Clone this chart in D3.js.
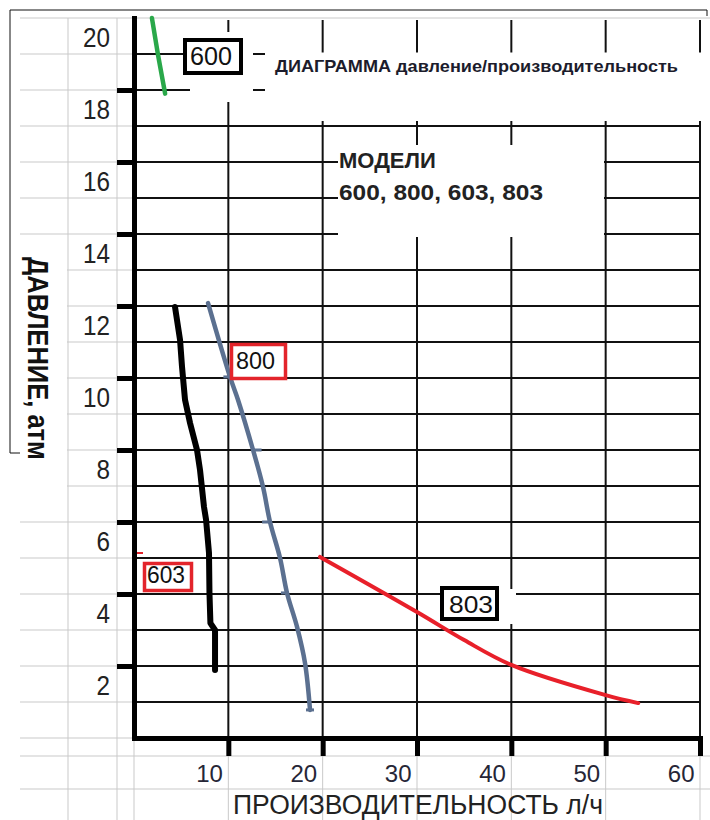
<!DOCTYPE html>
<html>
<head>
<meta charset="utf-8">
<script src="https://cdn.jsdelivr.net/npm/d3@7"></script>
<style>
  body { margin: 0; background: #fff; }
  text { font-family: 'Liberation Sans', Arial, sans-serif; }
</style>
</head>
<body>
<div id="viz"></div>
<script>
// tick values
const xTicks = [10, 20, 30, 40, 50, 60];
const yTicks = [2, 4, 6, 8, 10, 12, 14, 16, 18, 20];
const yMajor = [2, 4, 6, 8, 10, 12, 14, 16, 18];

// curves: [производительность л/ч, давление атм]
const model600 = [[1.9, 20.0], [2.55, 18.97], [3.3, 17.9]];
const model603 = [[4.35, 11.97], [4.88, 11.06], [5.09, 10.31], [5.41, 9.39], [5.94, 8.75],
  [6.68, 8.0], [7.0, 7.44], [7.42, 6.42], [7.64, 6.06], [7.95, 5.14], [8.0, 4.03],
  [8.1, 3.19], [8.59, 3.0], [8.59, 1.89]];
const model800 = [[7.85, 12.08], [10.18, 10.03], [11.03, 9.39], [12.62, 8.0], [13.68, 6.97],
  [14.42, 6.0], [15.48, 5.0], [16.22, 4.03], [17.29, 3.08], [18.13, 2.08], [18.66, 0.78]];
const model803 = [[19.72, 5.03], [30.0, 3.5], [35.0, 2.72], [40.0, 2.03], [50.0, 1.19], [53.45, 0.97]];
const markers800 = [[9.9, 10.03], [13.1, 8.0], [14.0, 6.0], [16.0, 4.03], [18.66, 0.78]];

const width = 710;
const height = 820;

const svg = d3.select('#viz')
    .append('svg')
    .attr('width', width)
    .attr('height', height);

const x = d3.scaleLinear().domain([0, 60]).range([134, 700]);
const y = d3.scaleLinear().domain([0, 20]).range([738, 18]);

// spreadsheet background lines
const sheet = svg.append('g').attr('stroke', '#c9c9c9').attr('stroke-width', 1);
sheet.selectAll('line.row')
    .data(d3.range(0, 21))
    .enter()
    .append('line')
    .attr('x1', 20)
    .attr('x2', (d) => (d === 20 ? 710 : x(0)))
    .attr('y1', (d) => y(d))
    .attr('y2', (d) => y(d));
[756, 789].forEach((yy) => {
  sheet.append('line').attr('x1', 20).attr('x2', 710).attr('y1', yy).attr('y2', yy);
});
[68, 117].forEach((xx) => {
  sheet.append('line').attr('x1', xx).attr('x2', xx).attr('y1', y(20)).attr('y2', height);
});
sheet.selectAll('line.col')
    .data([0].concat(xTicks))
    .enter()
    .append('line')
    .attr('x1', (d) => x(d))
    .attr('x2', (d) => x(d))
    .attr('y1', y(0))
    .attr('y2', height);
// blank cell behind the y title
svg.append('rect').attr('x', 20).attr('y', 245).attr('width', 47).attr('height', 255).attr('fill', '#fff');

// frame of the pasted picture
svg.append('path')
    .attr('d', 'M20,453H10V10H707V16')
    .attr('fill', 'none')
    .attr('stroke', '#111')
    .attr('stroke-width', 1);

// chart grid
const grid = svg.append('g').attr('stroke', '#111').attr('stroke-width', 2);
grid.selectAll('line.h')
    .data(d3.range(1, 20))
    .enter()
    .append('line')
    .attr('x1', x(0))
    .attr('x2', x(60))
    .attr('y1', (d) => y(d))
    .attr('y2', (d) => y(d));
grid.selectAll('line.v')
    .data(xTicks)
    .enter()
    .append('line')
    .attr('x1', (d) => x(d))
    .attr('x2', (d) => x(d))
    .attr('y1', y(20) + 2)
    .attr('y2', y(0));

// white areas under the title and the models note
const covers = [[190, 32, 63, 70], [265, 52.5, 438, 68.5], [338, 145, 266, 92], [499, 589, 17, 35]];
svg.selectAll('rect.cover')
    .data(covers)
    .enter()
    .append('rect')
    .attr('x', (d) => d[0])
    .attr('y', (d) => d[1])
    .attr('width', (d) => d[2])
    .attr('height', (d) => d[3])
    .attr('fill', '#fff');

// axes
const yAxis = svg.append('g')
    .attr('transform', `translate(${x(0)},0)`)
    .call(d3.axisLeft(y).tickValues(yMajor).tickSize(17).tickSizeOuter(0).tickFormat(''));
yAxis.selectAll('.tick line').attr('stroke', '#000').attr('stroke-width', 5);
yAxis.select('.domain').attr('stroke', '#000').attr('stroke-width', 5).attr('stroke-linecap', 'square');

const xAxis = svg.append('g')
    .attr('transform', `translate(0,${y(0)})`)
    .call(d3.axisBottom(x).tickValues(xTicks).tickSize(18).tickSizeOuter(0).tickFormat(''));
xAxis.selectAll('.tick line').attr('stroke', '#000').attr('stroke-width', 5);
xAxis.select('.domain').attr('stroke', '#000').attr('stroke-width', 5).attr('stroke-linecap', 'square');

// tick labels sit in the sheet cells, below each tick
const yLabels = svg.append('g')
    .attr('transform', `translate(${x(0)},20)`)
    .call(d3.axisLeft(y).tickValues(yTicks).tickSize(0).tickPadding(24).tickFormat(d3.format('d')));
yLabels.select('.domain').remove();
yLabels.selectAll('text')
    .attr('font-size', 27)
    .attr('fill', '#222')
    .attr('textLength', (d) => String(d).length * 13.5)
    .attr('lengthAdjust', 'spacingAndGlyphs');

const xLabels = svg.append('g')
    .attr('transform', `translate(0,${y(0)})`)
    .call(d3.axisBottom(x).tickValues(xTicks).tickSize(0).tickFormat(d3.format('d')));
xLabels.select('.domain').remove();
xLabels.selectAll('text')
    .attr('y', 44)
    .attr('dy', null)
    .attr('x', -6)
    .attr('text-anchor', 'end')
    .attr('font-size', 24)
    .attr('fill', '#262636');

// curves
const straight = d3.line().x((d) => x(d[0])).y((d) => y(d[1]));
const smooth = d3.line().x((d) => x(d[0])).y((d) => y(d[1])).curve(d3.curveCatmullRom.alpha(0.5));
const curves = [
  { data: model600, color: '#2aa84a', w: 4.5, line: straight },
  { data: model603, color: '#000000', w: 6, line: straight },
  { data: model800, color: '#5b7090', w: 4.5, line: smooth },
  { data: model803, color: '#e8202a', w: 4, line: smooth },
];
svg.selectAll('path.curve')
    .data(curves)
    .enter()
    .append('path')
    .attr('class', 'curve')
    .attr('d', (d) => d.line(d.data))
    .attr('fill', 'none')
    .attr('stroke', (d) => d.color)
    .attr('stroke-width', (d) => d.w)
    .attr('stroke-linejoin', 'round')
    .attr('stroke-linecap', 'round');
svg.selectAll('line.mark')
    .data(markers800)
    .enter()
    .append('line')
    .attr('x1', (d) => x(d[0]) - 4)
    .attr('x2', (d) => x(d[0]) + 4)
    .attr('y1', (d) => y(d[1]))
    .attr('y2', (d) => y(d[1]))
    .attr('stroke', '#5b7090')
    .attr('stroke-width', 3);

// labelled boxes
function box(bx, by, bw, bh, stroke, sw, label, fs, tx, ty, tl) {
  svg.append('rect')
      .attr('x', bx)
      .attr('y', by)
      .attr('width', bw)
      .attr('height', bh)
      .attr('fill', '#fff')
      .attr('stroke', stroke)
      .attr('stroke-width', sw);
  svg.append('text')
      .attr('x', tx)
      .attr('y', ty)
      .attr('font-size', fs)
      .attr('fill', '#111')
      .attr('textLength', tl)
      .attr('lengthAdjust', 'spacingAndGlyphs')
      .text(label);
}
box(185, 40, 56, 33, '#000', 4, '600', 25, 190, 65, 42);
box(231.5, 344.5, 54, 34, '#e3242b', 3.5, '800', 23, 236, 369, 39);
box(144.5, 563.5, 47, 27, '#e3242b', 3.5, '603', 24, 147, 583, 38);
box(442, 588, 55, 31, '#000', 4, '803', 23, 449, 613, 44);
svg.append('line')
    .attr('x1', 137).attr('x2', 143)
    .attr('y1', 553).attr('y2', 553)
    .attr('stroke', '#e3242b')
    .attr('stroke-width', 2);

// titles
svg.append('text')
    .attr('x', 275)
    .attr('y', 72)
    .attr('font-size', 17)
    .attr('font-weight', 'bold')
    .attr('fill', '#1c1c2c')
    .attr('textLength', 403)
    .attr('lengthAdjust', 'spacingAndGlyphs')
    .text('ДИАГРАММА давление/производительность');

svg.append('text')
    .attr('x', 339)
    .attr('y', 168)
    .attr('font-size', 22)
    .attr('font-weight', 'bold')
    .attr('fill', '#222')
    .text('МОДЕЛИ');
svg.append('text')
    .attr('x', 339)
    .attr('y', 200)
    .attr('font-size', 22)
    .attr('font-weight', 'bold')
    .attr('fill', '#222')
    .attr('textLength', 204)
    .attr('lengthAdjust', 'spacingAndGlyphs')
    .text('600, 800, 603, 803');

svg.append('text')
    .attr('transform', 'translate(28,257) rotate(90)')
    .attr('font-size', 29)
    .attr('font-weight', 'bold')
    .attr('fill', '#111')
    .attr('textLength', 203)
    .attr('lengthAdjust', 'spacingAndGlyphs')
    .text('ДАВЛЕНИЕ, атм');

svg.append('text')
    .attr('x', 233)
    .attr('y', 814)
    .attr('font-size', 27)
    .attr('fill', '#222')
    .attr('textLength', 370)
    .attr('lengthAdjust', 'spacingAndGlyphs')
    .text('ПРОИЗВОДИТЕЛЬНОСТЬ л/ч');
</script>
</body>
</html>
